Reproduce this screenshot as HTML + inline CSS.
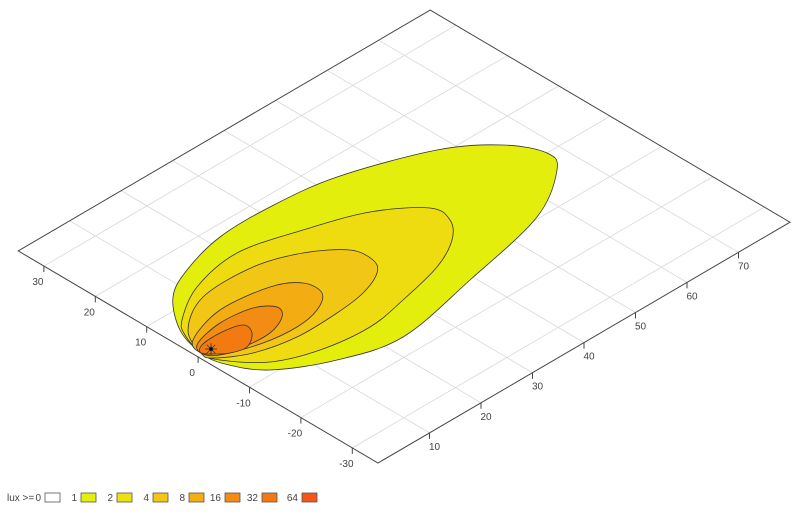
<!DOCTYPE html>
<html><head><meta charset="utf-8"><style>
html,body{margin:0;padding:0;background:#fff;width:800px;height:514px;overflow:hidden}
svg{display:block}
text{font-family:"Liberation Sans",sans-serif;font-size:10px;fill:#444}
</style></head><body>
<svg id="s" width="800" height="514" viewBox="0 0 800 514">
<g id="grid" stroke="#d8d8d8" stroke-width="0.8" fill="none"></g>
<g id="cont" stroke="#333" stroke-width="0.8"></g>
<g id="axes" stroke="#444" stroke-width="1" fill="none"></g>
<g id="lbl"></g>
<g id="leg"></g>
</svg>
<script>
var NS="http://www.w3.org/2000/svg";
function P(x,y){return [378+x*5.15-(y+35)*5.14, 463-x*3.01-(y+35)*3.03];}
function el(t,a,p){var e=document.createElementNS(NS,t);for(var k in a)e.setAttribute(k,a[k]);document.getElementById(p).appendChild(e);return e;}
function line(a,b,p){el('line',{x1:a[0],y1:a[1],x2:b[0],y2:b[1]},p);}
for(var x=10;x<=70;x+=10){line(P(x,-35),P(x,35),'grid');}
for(var y=-30;y<=30;y+=10){line(P(0,y),P(80,y),'grid');}
function cr(pts){var d="M"+pts[0][0]+","+pts[0][1];var n=pts.length;
for(var i=0;i<n;i++){var p0=pts[(i-1+n)%n],p1=pts[i],p2=pts[(i+1)%n],p3=pts[(i+2)%n];
d+=" C"+(p1[0]+(p2[0]-p0[0])/6)+","+(p1[1]+(p2[1]-p0[1])/6)+" "+(p2[0]-(p3[0]-p1[0])/6)+","+(p2[1]-(p3[1]-p1[1])/6)+" "+p2[0]+","+p2[1];}
return d+"Z";}
var C=[
["#e4ee0c",[[201,353],[180,330],[173,297],[187,270],[220,237],[270,207],[337,177],[437,150],[503,145],[547,153],[557,170],[537,217],[470,280],[403,337],[337,360],[270,370],[225,364]]],
["#efdc10",[[201,353],[185,335],[182,320],[197,287],[237,253],[303,230],[370,212],[430,208],[450,220],[452,240],[437,267],[403,300],[370,327],[320,350],[270,362],[220,360]]],
["#f2c614",[[201,353],[188,330],[203,297],[253,267],[303,253],[350,250],[373,260],[377,273],[363,293],[337,313],[297,337],[253,353],[213,358]]],
["#f3ad12",[[201,353],[193,340],[220,310],[270,287],[303,283],[322,293],[317,310],[297,327],[263,343],[220,355]]],
["#f38c12",[[201,353],[198,343],[220,323],[253,308],[277,307],[282,317],[270,333],[243,347],[217,353]]],
["#f37a10",[[201,353],[202,345],[220,333],[243,325],[252,333],[247,347],[230,353],[215,354]]]
];
C.forEach(function(c){el('path',{d:cr(c[1]),fill:c[0]},'cont');});
var st=[211,349];
for(var a=0;a<4;a++){var an=a*Math.PI/4;line([st[0]-6*Math.cos(an),st[1]-6*Math.sin(an)],[st[0]+6*Math.cos(an),st[1]+6*Math.sin(an)],'cont');}
el('circle',{cx:211,cy:349,r:1.8,fill:'#000'},'cont');
el('polygon',{points:[P(0,35),P(80,35),P(80,-35),P(0,-35)].map(function(p){return p.join(",")}).join(" ")},'axes');
for(var y=-30;y<=30;y+=10){var p=P(0,y);line(p,[p[0],p[1]+6],'axes');var t=el('text',{x:p[0]-6,y:p[1]+19,'text-anchor':'middle'},'lbl');t.textContent=y;}
for(var x=10;x<=70;x+=10){var p=P(x,-35);line(p,[p[0],p[1]+6],'axes');var t=el('text',{x:p[0]+5,y:p[1]+17,'text-anchor':'middle'},'lbl');t.textContent=x;}
var t=el('text',{x:7,y:501,'font-size':'8px'},'leg');t.textContent="lux >=";
var L=[["0","#ffffff",45],["1","#e4f00c",81],["2","#f1e00f",117],["4","#f4c614",153],["8","#f4ad12",189],["16","#f58a14",225],["32","#f57814",262],["64","#f5541a",302]];
L.forEach(function(l){var t=el('text',{x:l[2]-4,y:501,'text-anchor':'end','font-size':'8px'},'leg');t.textContent=l[0];
el('rect',{x:l[2],y:493,width:15,height:9,fill:l[1],stroke:'#555','stroke-width':0.8},'leg');});
</script>
</body></html>
